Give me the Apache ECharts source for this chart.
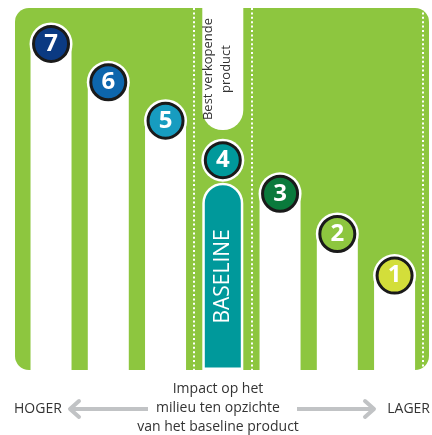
<!DOCTYPE html>
<html>
<head>
<meta charset="utf-8">
<script src="https://cdn.jsdelivr.net/npm/echarts@6/dist/echarts.min.js"></script>
<style>html,body{margin:0;padding:0;background:#fff}#c{width:432px;height:435px}</style>
</head>
<body>
<div id="c"></div>
<script>
// ---- data ----
const categories = ['7', '6', '5', '4', '3', '2', '1'];
const productBars = [95.6, 85.0, 74.4, '-', 54.2, 43.1, 31.6];
const markerLevels = [95.6, 85.0, 74.4, 63.5, 54.2, 43.1, 31.6];
const baselineBar = ['-', '-', '-', 51.7, '-', '-', '-'];
const bestSellerRange = [66.3, 100];
const markerColors = ['#0b3a82', '#0d66ad', '#179cc0', '#00999b', '#0a7a3c', '#8dc63f', '#d3de3a'];
const baselineLabel = 'BASELINE';
const bestSellerLabel = 'Best verkopende\nproduct';
const axisTitle = 'Impact op het\nmilieu ten opzichte\nvan het baseline product';
const leftLabel = 'HOGER';
const rightLabel = 'LAGER';

const FONT = 'Open Sans';
const bestIdx = 3;
const spacer = categories.map((c, i) => i === bestIdx ? +(bestSellerRange[0] - baselineBar[i]).toFixed(1) : '-');
const bestSeller = categories.map((c, i) => i === bestIdx ? {
  value: +(bestSellerRange[1] - bestSellerRange[0]).toFixed(1),
  label: {
    show: true, position: 'inside', rotate: 90, formatter: bestSellerLabel,
    color: '#333', fontSize: 13, lineHeight: 18, fontFamily: FONT, offset: [0, -6]
  }
} : '-');

const chart = echarts.init(document.getElementById('c'), null, { renderer: 'canvas' });
const arrowColor = '#c1c3c5';
chart.setOption({
  animation: false,
  grid: { left: 22.4, right: 8.8, top: 8, bottom: 65 },
  xAxis: {
    type: 'category', data: categories,
    axisLine: { show: false }, axisTick: { show: false }, axisLabel: { show: false },
    splitLine: {
      show: true,
      interval: (i) => i === 3 || i === 4,
      lineStyle: { color: '#ffffff', width: 2, type: [2, 2.4] }
    }
  },
  yAxis: { type: 'value', min: 0, max: 100, show: false, splitLine: { show: false } },
  graphic: {
    elements: [
      { type: 'rect', z: -100, shape: { x: 15, y: 8, width: 414, height: 362, r: 14 }, style: { fill: '#8dc63f' } },
      { type: 'text', style: { text: axisTitle, x: 218, y: 380, align: 'center', verticalAlign: 'top', font: '14px "' + FONT + '"', fill: '#333', lineHeight: 19 } },
      { type: 'text', style: { text: leftLabel, x: 14, y: 409, align: 'left', verticalAlign: 'middle', font: '14px "' + FONT + '"', fill: '#333' } },
      { type: 'text', style: { text: rightLabel, x: 430, y: 409, align: 'right', verticalAlign: 'middle', font: '14px "' + FONT + '"', fill: '#333' } },
      { type: 'polyline', shape: { points: [[148, 409], [70, 409]] }, style: { stroke: arrowColor, lineWidth: 4, fill: null } },
      { type: 'polyline', shape: { points: [[79, 401], [70, 409], [79, 417]] }, style: { stroke: arrowColor, lineWidth: 4, fill: null, lineJoin: 'round', lineCap: 'round' } },
      { type: 'polyline', shape: { points: [[297, 409], [374, 409]] }, style: { stroke: arrowColor, lineWidth: 4, fill: null } },
      { type: 'polyline', shape: { points: [[365, 401], [374, 409], [365, 417]] }, style: { stroke: arrowColor, lineWidth: 4, fill: null, lineJoin: 'round', lineCap: 'round' } }
    ]
  },
  series: [
    {
      name: 'products', type: 'bar', data: productBars, barWidth: 41, barGap: '-100%',
      itemStyle: { color: '#ffffff', borderRadius: [20.5, 20.5, 0, 0] }, z: 2
    },
    {
      name: 'baseline', type: 'bar', stack: 'mid', data: baselineBar, barWidth: 41, barGap: '-100%',
      itemStyle: { color: '#00999b', borderColor: '#ffffff', borderWidth: 2.5, borderRadius: [20, 20, 0, 0] },
      label: { show: true, position: 'inside', rotate: 90, formatter: baselineLabel, color: '#fff', fontSize: 21, fontFamily: FONT }, z: 2
    },
    {
      name: 'spacer', type: 'bar', stack: 'mid', data: spacer, barWidth: 41, barGap: '-100%',
      itemStyle: { color: 'rgba(0,0,0,0)' }, z: 2
    },
    {
      name: 'best', type: 'bar', stack: 'mid', data: bestSeller, barWidth: 41, barGap: '-100%',
      itemStyle: { color: '#ffffff', borderRadius: [0, 0, 20, 20] }, z: 2
    },
    {
      name: 'halo', type: 'scatter', data: markerLevels, symbol: 'circle', symbolSize: 43, symbolOffset: [0, 20],
      itemStyle: { color: '#ffffff', opacity: 1 }, z: 3, silent: true
    },
    {
      name: 'markers', type: 'scatter', symbol: 'circle', symbolSize: 35, symbolOffset: [0, 20], z: 4,
      data: markerLevels.map((v, i) => ({ value: v, itemStyle: { color: markerColors[i] } })),
      itemStyle: { borderColor: '#1a1a1a', borderWidth: 3, opacity: 1 },
      label: {
        show: true, position: 'inside', formatter: (p) => categories[p.dataIndex],
        color: '#ffffff', fontSize: 24, fontWeight: 'bold', fontFamily: FONT
      }
    }
  ]
});
</script>
</body>
</html>
